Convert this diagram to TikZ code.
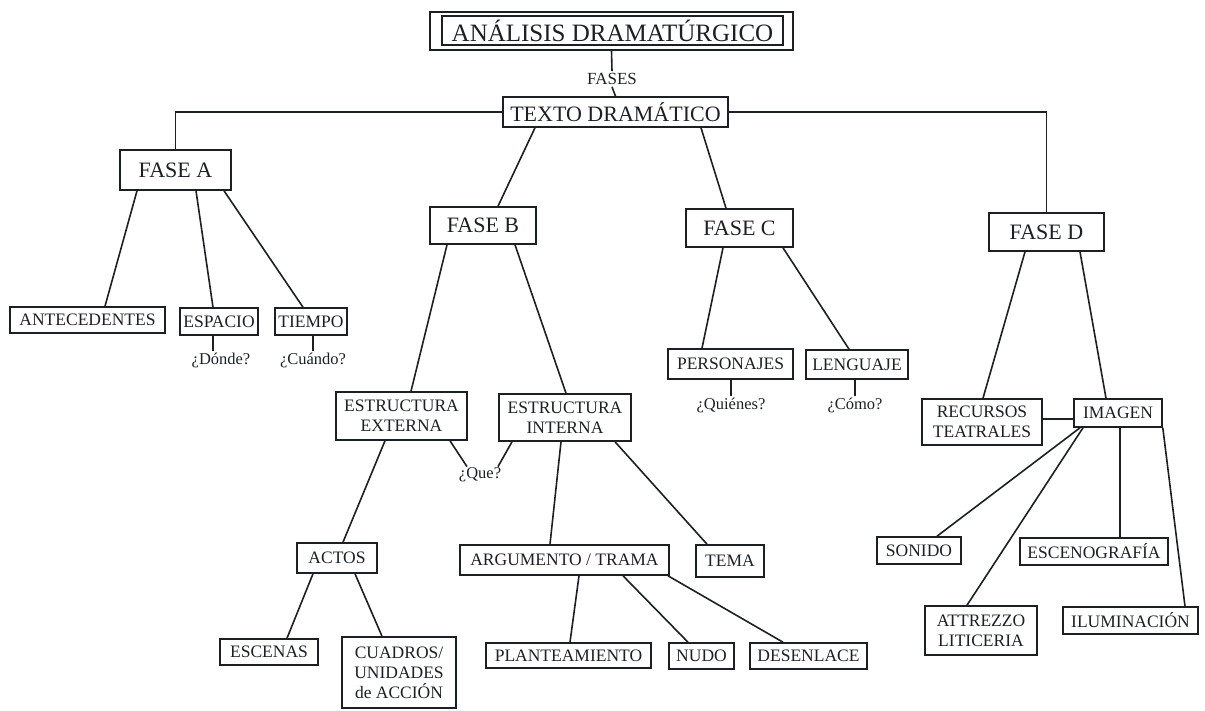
\documentclass[tikz,border=0pt]{standalone}
\usepackage{fontspec}
\setmainfont{Liberation Serif}
\definecolor{ink}{RGB}{28,32,36}
\newcommand\mkbox[7][]{\node[box,#1,minimum width=#5pt,minimum height=#6pt] (#2) at (#3,#4) {#7};}
\begin{document}
\begin{tikzpicture}[x=1pt,y=-1pt,
  box/.style={draw=ink,text=ink,line width=1.6pt,inner sep=0pt,align=center,font=\fontsize{17.5}{20}\selectfont},
  big/.style={font=\fontsize{22}{24}\selectfont},
  lbl/.style={text=ink,inner sep=1pt,font=\fontsize{16.5}{18}\selectfont},
  ln/.style={draw=ink,line width=1.6pt}]
\useasboundingbox (0,0) rectangle (1205,711);
% title
\node[box,minimum width=363pt,minimum height=38pt] (titleframe) at (611.5,31) {};
\node[box,minimum width=341pt,minimum height=29pt,font=\fontsize{25}{28}\selectfont] (title) at (612.5,30.5) {ANÁLISIS DRAMATÚRGICO};
\node[lbl,font=\fontsize{17}{19}\selectfont,inner sep=2pt] (fases) at (612,79) {FASES};
\mkbox[big]{texto}{615.5}{112}{225}{30}{TEXTO DRAMÁTICO}
\draw[ln] (titleframe.south) -- (fases.north);
\draw[ln] (fases.south) -- (texto.north);
% phases
\mkbox[big]{fa}{175.5}{170}{111}{40}{FASE A}
\mkbox[big]{fb}{483}{225.5}{106}{37}{FASE B}
\mkbox[big]{fc}{739.5}{228}{107}{38}{FASE C}
\mkbox[big]{fd}{1046.5}{232}{115}{38}{FASE D}
\draw[ln] (texto.west) -| (fa.north);
\draw[ln] (texto.east) -| (fd.north);
\draw[ln] ([xshift=-80.5pt]texto.south) -- ([xshift=15pt]fb.north);
\draw[ln] ([xshift=85.5pt]texto.south) -- ([xshift=-13.5pt]fc.north);
% fase A
\mkbox{ant}{87.5}{320}{155}{26}{ANTECEDENTES}
\mkbox{esp}{219}{321.5}{78}{27}{ESPACIO}
\mkbox{tie}{311}{321.5}{72}{27}{TIEMPO}
\node[lbl] (donde) at (221,360) {¿Dónde?};
\node[lbl] (cuando) at (313,360) {¿Cuándo?};
\draw[ln] ([xshift=-38.5pt]fa.south) -- ([xshift=17.5pt]ant.north);
\draw[ln] ([xshift=20.5pt]fa.south) -- ([xshift=-6pt]esp.north);
\draw[ln] ([xshift=48.5pt]fa.south) -- ([xshift=-8pt]tie.north);
\draw[ln] ([xshift=-6pt]esp.south) -- ([xshift=-6pt]esp.south |- donde.north);
\draw[ln] ([xshift=2pt]tie.south) -- ([xshift=2pt]tie.south |- cuando.north);
% fase B
\mkbox{ext}{401.5}{416}{131}{48}{ESTRUCTURA\\EXTERNA}
\mkbox{int}{565}{417.5}{132}{47}{ESTRUCTURA\\INTERNA}
\node[lbl] (que) at (480,475) {¿Que?};
\draw[ln] ([xshift=-36pt]fb.south) -- ([xshift=9.5pt]ext.north);
\draw[ln] ([xshift=32pt]fb.south) -- ([xshift=1pt]int.north);
\draw[ln] ([xshift=48.5pt]ext.south) -- ([xshift=-13pt]que.north);
\draw[ln] ([xshift=-53pt]int.south) -- ([xshift=18pt]que.north);
\mkbox{actos}{337}{558}{80}{30}{ACTOS}
\mkbox{escenas}{269}{652}{98}{26}{ESCENAS}
\mkbox{cuadros}{399}{672.5}{114}{71}{CUADROS/\\UNIDADES\\de ACCIÓN}
\draw[ln] ([xshift=-16.5pt]ext.south) -- ([xshift=6pt]actos.north);
\draw[ln] ([xshift=-24pt]actos.south) -- ([xshift=18pt]escenas.north);
\draw[ln] ([xshift=18pt]actos.south) -- ([xshift=-17pt]cuadros.north);
\mkbox{arg}{564.5}{560}{209}{30}{ARGUMENTO / TRAMA}
\mkbox{tema}{730}{561}{68}{32}{TEMA}
\draw[ln] ([xshift=-4pt]int.south) -- ([xshift=-14.5pt]arg.north);
\draw[ln] ([xshift=50pt]int.south) -- ([xshift=-23pt]tema.north);
\mkbox{plan}{568.5}{655.5}{165}{25}{PLANTEAMIENTO}
\mkbox{nudo}{701.5}{656}{65}{26}{NUDO}
\mkbox{des}{808.5}{656}{117}{26}{DESENLACE}
\draw[ln] ([xshift=14.5pt]arg.south) -- ([xshift=1.5pt]plan.north);
\draw[ln] ([xshift=58.5pt]arg.south) -- ([xshift=-13.5pt]nudo.north);
\draw[ln] ([xshift=103.5pt]arg.south) -- ([xshift=-25.5pt]des.north);
% fase C
\mkbox{pers}{730.5}{364}{125}{30}{PERSONAJES}
\mkbox{len}{857}{364.5}{102}{29}{LENGUAJE}
\node[lbl] (quienes) at (731,405) {¿Quiénes?};
\node[lbl] (como) at (855,405) {¿Cómo?};
\draw[ln] ([xshift=-16.5pt]fc.south) -- ([xshift=-28.5pt]pers.north);
\draw[ln] ([xshift=43.5pt]fc.south) -- ([xshift=-8pt]len.north);
\draw[ln] ([xshift=0.5pt]pers.south) -- ([xshift=0.5pt]pers.south |- quienes.north);
\draw[ln] ([xshift=-2pt]len.south) -- ([xshift=-2pt]len.south |- como.north);
% fase D
\mkbox{rec}{982}{422}{120}{46}{RECURSOS\\TEATRALES}
\mkbox{img}{1118}{413}{88}{28}{IMAGEN}
\draw[ln] ([xshift=-21.5pt]fd.south) -- ([xshift=1pt]rec.north);
\draw[ln] ([xshift=33.5pt]fd.south) -- ([xshift=-12pt]img.north);
\draw[ln] ([yshift=-6pt]img.west) -- ([yshift=-6pt]img.west -| rec.east);
\mkbox{son}{919}{550.5}{84}{27}{SONIDO}
\mkbox{esc}{1094}{551.5}{148}{27}{ESCENOGRAFÍA}
\mkbox{att}{981}{630.5}{112}{49}{ATTREZZO\\LITICERIA}
\mkbox{ilu}{1130.5}{620.5}{135}{27}{ILUMINACIÓN}
\draw[ln] ([xshift=-38pt]img.south) -- ([xshift=18pt]son.north);
\draw[ln] ([xshift=-35pt]img.south) -- ([xshift=-14pt]att.north);
\draw[ln] ([xshift=2pt]img.south) -- ([xshift=26pt]esc.north);
\draw[ln] (img.south east) -- ([xshift=54.5pt]ilu.north);
\end{tikzpicture}
\end{document}
